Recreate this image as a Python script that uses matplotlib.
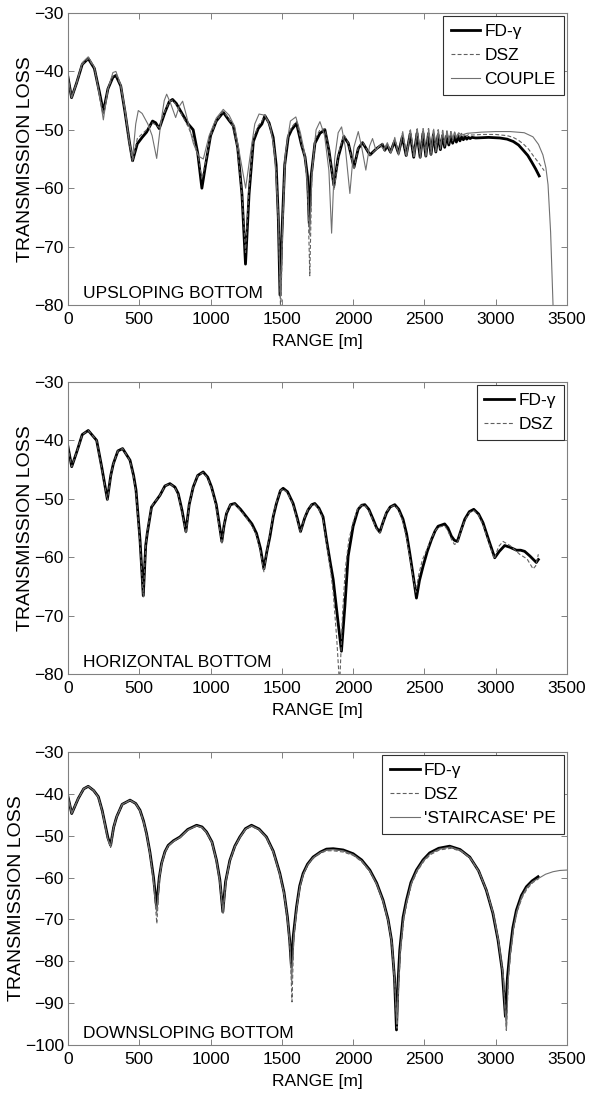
import numpy as np
import matplotlib
matplotlib.use('Agg')
import matplotlib.pyplot as plt
from matplotlib import font_manager

# range [m], transmission loss [dB]

# --- upsloping bottom ---
up_fd = [(0, -41), (25, -44.5), (60, -42), (100, -38.8), (142, -37.8), (185, -39.5),
         (220, -43.5), (248, -46.9), (280, -43), (315, -41), (336, -40.7), (370, -42.5),
         (400, -47), (430, -52), (453, -55.3), (486, -52.4), (520, -51.3), (551, -50.4),
         (593, -48.5), (615, -48.8), (640, -49.8), (680, -47), (710, -45.2), (733, -44.8),
         (760, -45.5), (785, -46.6), (843, -49), (878, -50), (910, -54), (939, -60),
         (965, -56), (1000, -51), (1040, -48.5), (1089, -47), (1130, -48.4), (1159, -49.3),
         (1190, -53), (1220, -61), (1245, -73), (1270, -61), (1300, -52), (1334, -49.8),
         (1360, -49), (1381, -47.6), (1410, -48.8), (1439, -51.3), (1460, -56), (1475, -65),
         (1487, -78.3), (1500, -68), (1520, -56), (1545, -51.2), (1568, -50), (1603, -48.9),
         (1638, -52.6), (1662, -54.6), (1680, -58), (1692, -66), (1705, -58), (1732, -52.3),
         (1767, -50.6), (1802, -50), (1830, -53.5), (1865, -59.5), (1896, -54.6), (1935, -51.2),
         (1966, -52.3), (2006, -56.4), (2036, -53.2), (2066, -52.2), (2118, -54.3), (2165, -53.2),
         (2205, -52.5), (2222, -53.5), (2240, -52.7), (2262, -53.8), (2290, -52), (2318, -54),
         (2345, -51.2), (2372, -54.4), (2400, -50.7), (2425, -54.7), (2448, -50.6), (2470, -54.7),
         (2490, -50.6), (2510, -54.5), (2528, -50.7), (2546, -54.2), (2563, -50.8), (2580, -53.8),
         (2596, -50.9), (2612, -53.4), (2627, -51), (2642, -53), (2657, -51), (2671, -52.6),
         (2685, -51.1), (2698, -52.3), (2711, -51.1), (2724, -52.1), (2737, -51.1), (2749, -51.9),
         (2761, -51.2), (2773, -51.7), (2785, -51.2), (2797, -51.6), (2809, -51.3), (2821, -51.5),
         (2833, -51.3), (2860, -51.4), (2950, -51.3), (3029, -51.4), (3080, -51.6), (3123, -52),
         (3160, -52.6), (3193, -53.5), (3225, -54.4), (3252, -55.5), (3280, -56.7), (3305, -57.9)]

up_dsz = [(0, -41), (25, -44.5), (60, -42), (100, -38.8), (142, -37.8), (185, -39.4),
          (220, -43.8), (248, -47.3), (280, -43), (315, -40.8), (336, -40.5), (370, -42.5),
          (400, -47), (430, -52.3), (453, -55.5), (486, -51.5), (520, -50.7), (551, -50),
          (593, -48.8), (615, -49.2), (640, -49.6), (680, -46.8), (710, -45.2), (733, -44.9),
          (760, -45.8), (785, -46.8), (843, -49.5), (878, -51.5), (910, -54), (939, -58.5),
          (965, -55.5), (1000, -51), (1040, -48.5), (1089, -46.8), (1130, -48.2), (1159, -49.5),
          (1190, -53.5), (1220, -61), (1245, -71), (1270, -60), (1300, -51.5), (1334, -49.3),
          (1360, -48.5), (1381, -47.4), (1410, -48.8), (1439, -51.8), (1460, -57), (1478, -67),
          (1492, -82), (1505, -67), (1522, -55), (1545, -50.8), (1568, -49.6), (1603, -48.5),
          (1638, -52.4), (1662, -55), (1682, -61), (1696, -75), (1710, -58), (1735, -51.5),
          (1767, -50), (1802, -49.8), (1830, -53.5), (1867, -60.3), (1898, -54), (1935, -50.8),
          (1966, -52.3), (2006, -56.8), (2036, -53), (2066, -52), (2118, -54.4), (2165, -53.2),
          (2205, -52.3), (2222, -53.6), (2240, -52.4), (2262, -54), (2290, -51.6), (2318, -54.3),
          (2345, -50.6), (2372, -54.6), (2400, -50.1), (2425, -54.8), (2448, -49.9), (2470, -54.8),
          (2490, -49.8), (2510, -54.6), (2528, -49.8), (2546, -54.3), (2563, -49.9), (2580, -53.8),
          (2596, -50), (2612, -53.3), (2627, -50.1), (2642, -52.8), (2657, -50.2), (2671, -52.3),
          (2685, -50.3), (2698, -51.9), (2711, -50.4), (2724, -51.6), (2737, -50.5), (2749, -51.4),
          (2761, -50.6), (2773, -51.2), (2785, -50.7), (2797, -51.1), (2809, -50.8), (2833, -50.9),
          (2900, -50.8), (3000, -50.8), (3080, -51), (3123, -51.3), (3160, -51.8), (3193, -52.4),
          (3230, -53.3), (3265, -54.5), (3300, -55.6), (3340, -57)]

up_couple = [(0, -41), (25, -44.5), (60, -42), (100, -38.5), (142, -37.5), (185, -39.3),
             (220, -44), (248, -48.3), (280, -43), (315, -40.2), (336, -40), (370, -42.3),
             (400, -46.5), (430, -52), (453, -54.8), (475, -49), (493, -46.7), (520, -47.2),
             (560, -49), (590, -51), (622, -54.9), (650, -49), (675, -45), (692, -43.9),
             (720, -45.5), (755, -47.9), (780, -46), (804, -45.1), (830, -47.5), (879, -52.3),
             (915, -54.5), (949, -55), (990, -51), (1040, -48), (1089, -46.5), (1130, -47.5),
             (1170, -49.5), (1210, -55), (1246, -60), (1280, -54), (1310, -49), (1340, -47.3),
             (1380, -47.5), (1420, -49.5), (1450, -54), (1475, -65), (1490, -79), (1505, -66),
             (1525, -54), (1560, -48.5), (1598, -47.8), (1630, -50.5), (1660, -54), (1682, -60),
             (1695, -68), (1712, -57), (1740, -50), (1767, -48.6), (1800, -51), (1830, -57),
             (1849, -67.7), (1870, -55), (1895, -50.5), (1919, -49.5), (1945, -53), (1977, -60.9),
             (2005, -53), (2036, -50.3), (2060, -53), (2089, -56.9), (2115, -52.8), (2136, -51.5),
             (2160, -53.5), (2190, -52.6), (2215, -53.4), (2240, -52.2), (2265, -54), (2292, -51.3),
             (2320, -54.3), (2348, -50.3), (2375, -54.5), (2402, -50), (2428, -54.6), (2450, -49.8),
             (2472, -54.6), (2492, -49.8), (2512, -54.4), (2530, -49.8), (2548, -54), (2565, -49.9),
             (2582, -53.5), (2598, -50), (2614, -53), (2629, -50.1), (2644, -52.5), (2659, -50.2),
             (2673, -52), (2687, -50.3), (2700, -51.6), (2713, -50.4), (2726, -51.3), (2740, -50.5),
             (2760, -50.9), (2800, -50.6), (2900, -50.4), (3000, -50.3), (3100, -50.3), (3200, -50.5),
             (3261, -51.2), (3300, -52.5), (3331, -54.3), (3352, -56.5), (3367, -59.4), (3385, -67.5),
             (3402, -80), (3410, -86)]

# --- horizontal bottom ---
hz_fd = [(0, -41.1), (26, -44.5), (61, -42), (100, -39), (142, -38.3), (201, -40),
         (236, -44.5), (276, -50.1), (300, -46), (318, -44), (350, -41.8), (383, -41.4),
         (435, -43.4), (460, -46), (477, -48.5), (505, -57), (528, -66.6), (545, -58),
         (556, -55.9), (586, -51.4), (645, -49.4), (680, -47.8), (715, -47.4), (750, -48),
         (773, -49.1), (800, -52), (827, -55.6), (850, -51), (878, -48), (910, -46),
         (948, -45.4), (980, -46.3), (1007, -48), (1040, -51), (1065, -55), (1079, -57.3),
         (1095, -54.5), (1112, -52.5), (1140, -51), (1170, -50.8), (1210, -51.8), (1252, -53.1),
         (1290, -54.3), (1322, -55.9), (1350, -58.5), (1374, -62), (1395, -59), (1416, -56.5),
         (1440, -53), (1462, -50.8), (1490, -48.6), (1509, -48.2), (1540, -48.8), (1579, -50.8),
         (1610, -53.5), (1631, -55.6), (1660, -53.3), (1684, -51.9), (1710, -51), (1731, -50.8),
         (1760, -51.6), (1789, -53.1), (1813, -57), (1840, -61), (1860, -63.8), (1895, -71.3),
         (1918, -76.1), (1942, -68.4), (1965, -59.8), (2000, -54.7), (2035, -51.8), (2060, -51.1),
         (2082, -51), (2110, -51.8), (2140, -53.5), (2165, -55), (2187, -55.7), (2210, -54),
         (2234, -52.4), (2260, -51.4), (2292, -51), (2320, -51.8), (2350, -53.5), (2375, -56),
         (2397, -59.3), (2420, -63), (2444, -67), (2465, -64), (2491, -61.5), (2520, -59),
         (2549, -57), (2575, -55.5), (2596, -54.7), (2642, -54.3), (2665, -55), (2689, -56.4),
         (2710, -57.1), (2731, -57.3), (2755, -55.5), (2783, -53.5), (2815, -52.2), (2846, -51.8),
         (2880, -52.6), (2911, -54.1), (2950, -57), (2993, -60.1), (3025, -59), (3063, -58),
         (3100, -58.3), (3145, -58.8), (3175, -58.8), (3203, -59), (3240, -59.8), (3285, -60.9),
         (3299, -60.4)]

hz_dsz = [(0, -41.1), (26, -44.5), (61, -42), (100, -39), (142, -38.3), (201, -40),
          (236, -44.7), (276, -50.3), (300, -46), (318, -44), (350, -41.8), (383, -41.4),
          (435, -43.5), (460, -46.3), (477, -49), (505, -57.5), (528, -66.8), (545, -58),
          (556, -55.7), (586, -51.3), (645, -49.4), (680, -47.8), (715, -47.4), (750, -48.1),
          (773, -49.3), (800, -52.3), (827, -56), (850, -51), (878, -48), (910, -46),
          (948, -45.5), (980, -46.5), (1007, -48.2), (1040, -51.3), (1065, -55.5), (1079, -57.8),
          (1095, -54.5), (1112, -52.3), (1140, -51), (1170, -50.9), (1210, -52), (1252, -53.3),
          (1290, -54.6), (1322, -56.3), (1350, -59), (1374, -62.5), (1395, -59), (1416, -56),
          (1440, -52.7), (1462, -50.6), (1490, -48.6), (1509, -48.3), (1540, -49), (1579, -51),
          (1610, -53.8), (1631, -55.8), (1660, -53.2), (1684, -51.8), (1710, -51), (1731, -50.9),
          (1760, -51.8), (1789, -53.5), (1813, -57.5), (1840, -62), (1860, -66), (1885, -74),
          (1905, -82), (1925, -70), (1945, -62), (1970, -57), (2000, -54), (2035, -51.5),
          (2060, -51.1), (2082, -51.1), (2110, -52), (2140, -53.8), (2165, -55.2), (2187, -55.9),
          (2210, -54), (2234, -52.2), (2260, -51.4), (2292, -51.1), (2320, -52), (2350, -54),
          (2375, -56.8), (2397, -60), (2420, -63.5), (2440, -66), (2460, -63), (2485, -60.5),
          (2520, -58.5), (2549, -56.8), (2575, -55.5), (2596, -54.9), (2642, -54.6), (2665, -55.5),
          (2689, -56.9), (2710, -57.8), (2731, -57.6), (2755, -55.5), (2783, -53.7), (2815, -52.4),
          (2846, -52), (2880, -52.8), (2911, -54.5), (2950, -57.4), (2990, -60.3), (3020, -58.2),
          (3051, -57.3), (3100, -58), (3168, -59.5), (3220, -60.3), (3262, -62), (3280, -61.5),
          (3299, -59.5)]

# --- downsloping bottom ---
dn_fd = [(0, -40.7), (26, -44.7), (72, -41.1), (110, -38.8), (142, -38.2), (180, -39.2),
         (213, -40.7), (240, -44), (259, -47.1), (280, -50.5), (299, -52.3), (320, -48),
         (341, -45.5), (380, -42.5), (435, -41.5), (475, -42.3), (505, -43.9), (530, -46.5),
         (551, -49.5), (575, -54), (600, -60), (621, -67), (640, -60), (656, -56.6),
         (680, -53.8), (703, -52.3), (740, -51.2), (785, -50.3), (840, -48.5), (902, -47.5),
         (940, -47.9), (972, -49.1), (1010, -51.5), (1042, -55.9), (1065, -60.5), (1086, -68.2),
         (1105, -61), (1135, -55.9), (1170, -52.5), (1205, -50.3), (1245, -48.3), (1287, -47.5),
         (1340, -48.4), (1392, -50.3), (1440, -53.7), (1486, -59), (1515, -63.5), (1539, -69.4),
         (1555, -75), (1567, -81.3), (1580, -74), (1603, -67), (1625, -62), (1649, -59),
         (1680, -56.8), (1719, -55.1), (1770, -53.9), (1813, -53.2), (1860, -53.1), (1930, -53.4),
         (2000, -54.3), (2060, -55.8), (2117, -58.2), (2165, -61.3), (2210, -65.4), (2245, -70),
         (2269, -74.9), (2290, -84), (2304, -96.4), (2315, -85), (2327, -77.3), (2350, -69.5),
         (2374, -65.4), (2405, -61.2), (2444, -58.2), (2490, -55.8), (2537, -54.1), (2600, -53),
         (2677, -52.5), (2750, -53.3), (2818, -55.1), (2880, -58.4), (2934, -63), (2980, -68.5),
         (3016, -74.9), (3045, -82), (3068, -93.2), (3082, -84), (3098, -78.1), (3120, -72),
         (3145, -67.8), (3180, -64.3), (3215, -62.2), (3255, -60.8), (3297, -59.8)]

dn_dsz = [(0, -40.7), (26, -44.7), (72, -41.1), (110, -38.8), (142, -38.2), (180, -39.2),
          (213, -40.8), (240, -44.2), (259, -47.4), (280, -51), (299, -52.8), (320, -48),
          (341, -45.5), (380, -42.6), (435, -41.6), (475, -42.4), (505, -44.1), (530, -46.8),
          (551, -49.8), (575, -54.5), (600, -61), (623, -71), (642, -60), (658, -56.6),
          (680, -54), (703, -52.5), (740, -51.4), (785, -50.5), (840, -48.7), (902, -47.7),
          (940, -48.1), (972, -49.3), (1010, -51.8), (1042, -56.2), (1065, -61), (1088, -68.5),
          (1107, -61), (1135, -56.2), (1170, -52.7), (1205, -50.5), (1245, -48.5), (1287, -47.8),
          (1340, -48.6), (1392, -50.6), (1440, -54), (1486, -59.4), (1515, -64), (1539, -70),
          (1558, -77), (1571, -89.7), (1583, -75), (1605, -67.5), (1627, -62.3), (1651, -59.3),
          (1682, -57), (1721, -55.4), (1770, -54.2), (1813, -53.6), (1860, -53.6), (1930, -53.9),
          (2000, -54.7), (2060, -56.2), (2117, -58.6), (2165, -61.7), (2210, -65.8), (2245, -70.5),
          (2272, -76), (2293, -86), (2308, -96), (2320, -85), (2333, -77.5), (2356, -69.8),
          (2380, -65.6), (2411, -61.4), (2450, -58.5), (2496, -56.1), (2543, -54.5), (2606, -53.4),
          (2690, -53), (2760, -53.8), (2825, -55.6), (2886, -58.9), (2940, -63.5), (2986, -69),
          (3022, -75.5), (3052, -83), (3075, -96.5), (3089, -84), (3104, -78.3), (3126, -72.3),
          (3150, -68.2), (3185, -64.8), (3220, -62.7), (3260, -61.2), (3300, -60.3)]

dn_stair = [(0, -40.7), (26, -44.7), (72, -41.1), (110, -38.8), (142, -38.2), (180, -39.2),
            (213, -40.8), (240, -44.1), (259, -47.3), (280, -50.8), (299, -52.5), (320, -48),
            (341, -45.5), (380, -42.5), (435, -41.5), (475, -42.3), (505, -44), (530, -46.6),
            (551, -49.6), (575, -54.2), (600, -60.5), (622, -68.5), (641, -60), (657, -56.6),
            (680, -53.9), (703, -52.4), (740, -51.3), (785, -50.4), (840, -48.6), (902, -47.6),
            (940, -48), (972, -49.2), (1010, -51.6), (1042, -56), (1065, -60.8), (1087, -68.3),
            (1106, -61), (1135, -56), (1170, -52.6), (1205, -50.4), (1245, -48.4), (1287, -47.6),
            (1340, -48.5), (1392, -50.4), (1440, -53.8), (1486, -59.2), (1515, -63.7), (1539, -69.6),
            (1557, -76), (1569, -85), (1582, -74.5), (1604, -67.2), (1626, -62.2), (1650, -59.2),
            (1681, -56.9), (1720, -55.2), (1770, -54), (1813, -53.4), (1860, -53.3), (1930, -53.6),
            (2000, -54.5), (2060, -56), (2117, -58.4), (2165, -61.5), (2210, -65.6), (2245, -70.2),
            (2271, -75.5), (2292, -85), (2306, -95), (2318, -85), (2330, -77.4), (2353, -69.6),
            (2377, -65.5), (2408, -61.3), (2447, -58.3), (2493, -55.9), (2540, -54.3), (2603, -53.2),
            (2683, -52.7), (2755, -53.5), (2822, -55.3), (2883, -58.6), (2937, -63.2), (2983, -68.7),
            (3019, -75.2), (3050, -83), (3075, -96.5), (3088, -84), (3102, -78.2), (3124, -72.1),
            (3148, -68), (3183, -64.5), (3218, -62.4), (3258, -61), (3300, -60.2), (3350, -59.2),
            (3402, -58.6), (3450, -58.3), (3500, -58.2)]

x_ticks = [0, 500, 1000, 1500, 2000, 2500, 3000, 3500]
panel_titles = ['UPSLOPING BOTTOM', 'HORIZONTAL BOTTOM', 'DOWNSLOPING BOTTOM']
ylims = [(-80, -30), (-80, -30), (-100, -30)]

# the scan is squeezed sideways, a narrow face matches the text widths best
names = {f.name for f in font_manager.fontManager.ttflist}
if 'Liberation Sans Narrow' in names:
    TXT = ['Liberation Sans Narrow', 'DejaVu Sans']
    FS = 14
else:
    TXT = ['Liberation Sans', 'DejaVu Sans']
    FS = 12.5
plt.rcParams['font.family'] = TXT

FD_STYLE = dict(color='black', lw=2.0, solid_joinstyle='round')
DSZ_STYLE = dict(color='#606060', lw=0.8, ls=(0, (3.5, 2)))
THIN_STYLE = dict(color='#707070', lw=0.8)


def draw_panel(ax, series, title, ylim):
    for pts, label, style in series:
        r, tl = np.array(pts).T
        ax.plot(r, tl, label=label, **style)
    ax.set_xlim(0, 3500)
    ax.set_ylim(*ylim)
    ax.set_xticks(x_ticks)
    ax.set_yticks(np.arange(ylim[0], ylim[1] + 1, 10))
    ax.tick_params(direction='in', top=True, right=True, length=4, width=0.7,
                   color='#808080', labelsize=FS)
    ax.tick_params(axis='x', pad=5)
    ax.tick_params(axis='y', pad=3)
    for sp in ax.spines.values():
        sp.set_color('#808080')
        sp.set_linewidth(0.8)
    ax.set_xlabel('RANGE [m]', fontsize=FS, labelpad=5)
    ax.set_ylabel('TRANSMISSION LOSS', fontsize=14, labelpad=0,
                  family=['Liberation Sans', 'DejaVu Sans'])
    ax.text(0.03, 0.015, title, transform=ax.transAxes, fontsize=FS, va='bottom')
    leg = ax.legend(loc='upper right', fontsize=FS, fancybox=False, framealpha=1,
                    borderaxespad=0.2, handlelength=1.7, handletextpad=0.25,
                    labelspacing=0.5, borderpad=0.45)
    leg.get_frame().set_edgecolor('#303030')
    leg.get_frame().set_linewidth(0.8)


fig = plt.figure(figsize=(5.98, 10.93), dpi=100)
left, width = 68 / 598, 499 / 598
ax1 = fig.add_axes([left, 1 - 305 / 1093, width, 292 / 1093])
ax2 = fig.add_axes([left, 1 - 674 / 1093, width, 292 / 1093])
ax3 = fig.add_axes([left, 1 - 1045 / 1093, width, 293 / 1093])

draw_panel(ax1, [(up_fd, 'FD-γ', FD_STYLE), (up_dsz, 'DSZ', DSZ_STYLE),
                 (up_couple, 'COUPLE', THIN_STYLE)], panel_titles[0], ylims[0])
draw_panel(ax2, [(hz_fd, 'FD-γ', FD_STYLE), (hz_dsz, 'DSZ', DSZ_STYLE)],
           panel_titles[1], ylims[1])
draw_panel(ax3, [(dn_fd, 'FD-γ', FD_STYLE), (dn_dsz, 'DSZ', DSZ_STYLE),
                 (dn_stair, "'STAIRCASE' PE", THIN_STYLE)], panel_titles[2], ylims[2])

fig.savefig('out.png', dpi=100)
